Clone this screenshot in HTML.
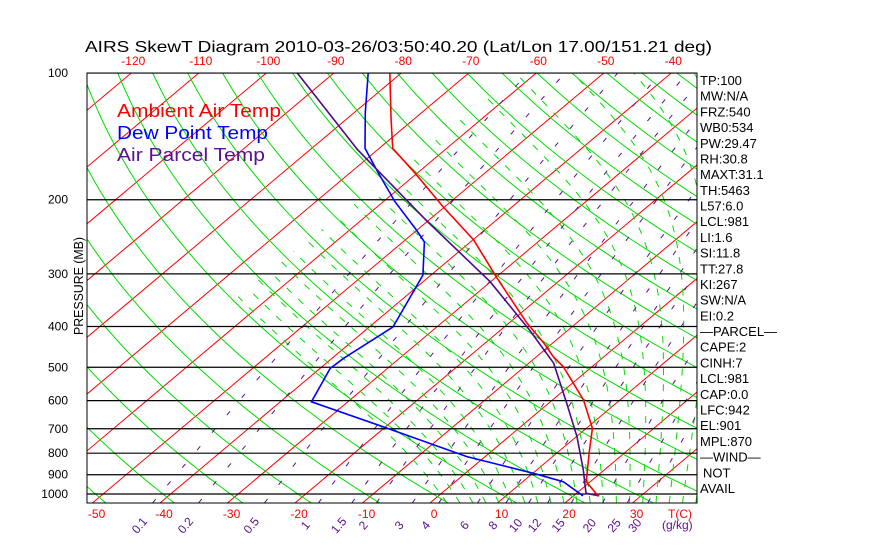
<!DOCTYPE html>
<html><head><meta charset="utf-8"><style>
html,body{margin:0;padding:0;background:#fff;}
svg{display:block;font-family:"Liberation Sans",sans-serif;}
</style></head><body>
<svg id="chart" width="870" height="560" viewBox="0 0 870 560">
<defs><clipPath id="plotclip"><rect x="87" y="73" width="610" height="430"/></clipPath></defs>
<rect x="0" y="0" width="870" height="560" fill="#fff"/>
<text x="85" y="52" font-size="16" textLength="627" lengthAdjust="spacingAndGlyphs" fill="#000">AIRS SkewT Diagram 2010-03-26/03:50:40.20 (Lat/Lon 17.00/151.21 deg)</text>
<g id="bg" clip-path="url(#plotclip)"></g>
<g id="series" clip-path="url(#plotclip)"></g>
<rect x="87" y="73" width="610" height="430" fill="none" stroke="#000" stroke-width="1"/>
<g id="labels"></g>
<text x="117" y="117" font-size="18" fill="#ff0000" textLength="164" lengthAdjust="spacingAndGlyphs">Ambient Air Temp</text>
<text x="117" y="139" font-size="18" fill="#0000ff" textLength="151" lengthAdjust="spacingAndGlyphs">Dew Point Temp</text>
<text x="117" y="161" font-size="18" fill="#5a1090" textLength="148" lengthAdjust="spacingAndGlyphs">Air Parcel Temp</text>
<text transform="translate(83,286) rotate(-90)" text-anchor="middle" font-size="13" textLength="98" lengthAdjust="spacingAndGlyphs" fill="#000">PRESSURE (MB)</text>
</svg>
<script>
const tempP=[100,129,151,173,208,249,305,393,438,472,498,598,698,800,935,1013];
const tempT=[-81.7,-73.3,-68.0,-60.3,-50.2,-39.9,-30.0,-17.3,-11.3,-7.5,-4.3,4.6,10.9,14.8,19.4,23.8];
const dewP=[100,124,151,172,202,236,252,302,401,476,503,604,692,815,893,935,1010];
const dewT=[-84.9,-78.4,-72.1,-66.0,-58.3,-50.1,-46.8,-41.2,-36.5,-38.3,-38.5,-35.4,-20.4,-2.7,10.1,16.0,21.4];
const parcelP=[100,152,224,313,408,489,609,731,877,996,1010];
const parcelT=[-95.4,-73.0,-50.3,-30.1,-15.7,-6.3,2.7,10.1,16.9,21.4,23.8];
const pressureTicks=[100,200,300,400,500,600,700,800,900,1000];
const bottomTempTicks=[-50,-40,-30,-20,-10,0,10,20,30];
const topTempTicks=[-120,-110,-100,-90,-80,-70,-60,-50,-40];
const mixRatios=[0.1,0.2,0.5,1,1.5,2,3,4,6,8,10,12,15,20,25,30];
const mixLabels=["0.1","0.2","0.5","1","1.5","2","3","4","6","8","10","12","15","20","25","30"];
const indexLabels=["TP:100","MW:N/A","FRZ:540","WB0:534","PW:29.47","RH:30.8","MAXT:31.1","TH:5463","L57:6.0","LCL:981","LI:1.6","SI:11.8","TT:27.8","KI:267","SW:N/A","EI:0.2","\u2014PARCEL\u2014","CAPE:2","CINH:7","LCL:981","CAP:0.0","LFC:942","EL:901","MPL:870","\u2014WIND\u2014","NOT","AVAIL"];

const NS="http://www.w3.org/2000/svg";
function yP(p){return 73+421*Math.log10(p/100);}
function xT(T,p){return 430+6.75*T+1.189*(503-yP(p));}
function mk(tag,parent){const e=document.createElementNS(NS,tag);parent.appendChild(e);return e;}
const bg=document.getElementById('bg'),ser=document.getElementById('series'),lab=document.getElementById('labels');
function polyline(parent,pts,stroke,w,dash){const e=mk('polyline',parent);e.setAttribute('points',pts.map(q=>q[0].toFixed(1)+','+q[1].toFixed(1)).join(' '));e.setAttribute('fill','none');e.setAttribute('stroke',stroke);e.setAttribute('stroke-width',w);if(dash)e.setAttribute('stroke-dasharray',dash);return e;}

for(let T=-160;T<=50;T+=10){
  const e=polyline(bg,[[xT(T,1050),yP(1050)],[xT(T,100),yP(100)]],'#ff0000',1);
  
  
}
for(let th=182;th<=560;th+=10){
  const pts=[];for(let p=1050;p>=100;p-=10){pts.push([xT(th*Math.pow(p/1000,0.286)-273.15,p),yP(p)]);}
  const e=polyline(bg,pts,'#00dd00',1);
  
  
}
function es(Tc){return 6.112*Math.exp(17.67*Tc/(Tc+243.5));}
function moist(T0){
  const Rd=287,cp=1005,Lv=2.5e6,eps=0.622;
  function dTdp(T,p){const rs=eps*es(T-273.15)/(p-es(T-273.15));return (Rd*T+Lv*rs)/(p*(cp+Lv*Lv*rs*eps/(Rd*T*T)));}
  const pts=[];let T=T0+273.15,p=1000;
  let Td=T;for(let pp=1000;pp<1050;pp+=5){Td+=dTdp(Td,pp)*5;}
  pts.push([xT(Td-273.15,1050),yP(1050)]);
  for(p=1000;p>=100;p-=5){pts.push([xT(T-273.15,p),yP(p)]);T-=dTdp(T,p)*5;if(T<273.15-65)break;}
  return pts;
}
for(let t=0;t<=40;t+=2){
  const e=polyline(bg,moist(t),'#00dd00',1,'7 9');
  
  
}
function tdFromW(w,p){const e=w*p/(622+w);const l=Math.log(e/6.112);return 243.5*l/(17.67-l);}
mixRatios.forEach((w,i)=>{
  const pts=[];for(let p=1050;p>=100;p-=10){pts.push([xT(tdFromW(w,p),p),yP(p)]);}
  const e=polyline(bg,pts,'#5a1090',1,'5 18');
  
  
  const x=xT(tdFromW(w,1050),1050)-10;
  const t=mk('text',lab);t.textContent=mixLabels[i];
  t.setAttribute('transform','translate('+x.toFixed(1)+',528) rotate(-50)');
  t.setAttribute('font-size','12');t.setAttribute('fill','#5a1090');t.setAttribute('text-anchor','middle');
  
  
});
{const t=mk('text',lab);t.textContent='(g/kg)';t.setAttribute('x','662');t.setAttribute('y','529');t.setAttribute('font-size','12');t.setAttribute('fill','#5a1090');
 
 }
pressureTicks.forEach(p=>{
  const y=yP(p);
  const l=mk('line',bg);l.setAttribute('x1',87);l.setAttribute('x2',697);l.setAttribute('y1',y);l.setAttribute('y2',y);l.setAttribute('stroke','#000');l.setAttribute('stroke-width','1.2');
  
  
  const t=mk('text',lab);t.textContent=p;t.setAttribute('x','68');t.setAttribute('y',(y+4).toFixed(1));t.setAttribute('text-anchor','end');t.setAttribute('font-size','12');
  
  
});
bottomTempTicks.forEach(T=>{
  const t=mk('text',lab);t.textContent=T;t.setAttribute('x',(xT(T,1050)+4).toFixed(1));t.setAttribute('y','518');t.setAttribute('text-anchor','middle');t.setAttribute('font-size','12');t.setAttribute('fill','#ff0000');
  
  
});
{const t=mk('text',lab);t.textContent='T(C)';t.setAttribute('x','668');t.setAttribute('y','518');t.setAttribute('font-size','12');t.setAttribute('fill','#ff0000');
 
 }
topTempTicks.forEach(T=>{
  const t=mk('text',lab);t.textContent=T;t.setAttribute('x',(xT(T,100)+2).toFixed(1));t.setAttribute('y','65');t.setAttribute('text-anchor','middle');t.setAttribute('font-size','12');t.setAttribute('fill','#ff0000');
  
  
});
indexLabels.forEach((s,i)=>{
  const t=mk('text',lab);t.textContent=s;t.setAttribute('x',(s==='NOT'?703:700));t.setAttribute('y',(85+i*15.69).toFixed(1));t.setAttribute('font-size','13');
  
  
});
function seriesLine(P,T,color,name){
  const pts=P.map((p,i)=>[xT(T[i],p),yP(p)]);
  const e=polyline(ser,pts,color,1.6);
  
  
}
seriesLine(dewP,dewT,'#0000ff','dew-point-line');
seriesLine(parcelP,parcelT,'#4b0a8a','parcel-temp-line');
seriesLine(tempP,tempT,'#ff0000','ambient-temp-line');
</script>
</body></html>
